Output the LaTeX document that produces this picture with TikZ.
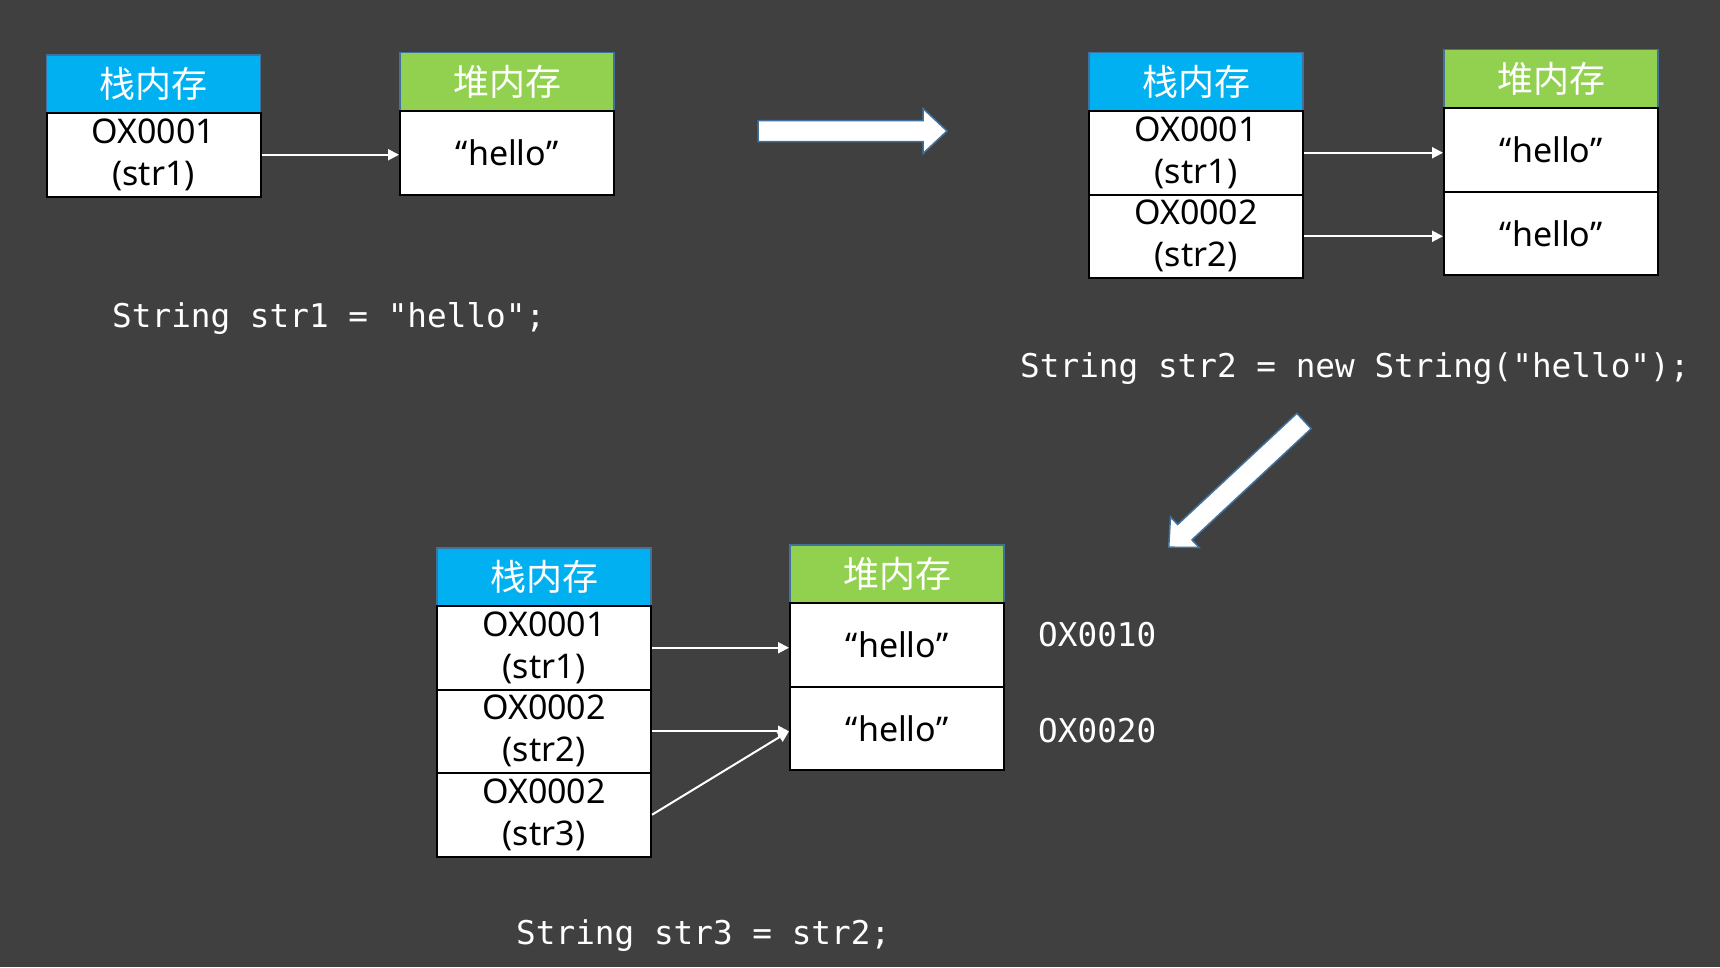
\documentclass[tikz,border=0pt]{standalone}
\usepackage{fontspec}
\setmainfont{Noto Sans}
\setmonofont{DejaVu Sans Mono}
\newfontfamily\cjk{Noto Sans CJK SC}
\usepackage{tikz}
\usetikzlibrary{arrows.meta}
\definecolor{slidebg}{HTML}{404040}
\definecolor{stackblue}{HTML}{00B0F0}
\definecolor{heapgreen}{HTML}{92D050}
\definecolor{outlineblue}{HTML}{41719C}

\begin{document}
\begin{tikzpicture}[x=1pt,y=-1pt,
  memhead/.style={draw=outlineblue,line width=1.5pt,minimum width=214pt,minimum height=58pt,
                  inner sep=0pt,text=white,font=\cjk\fontsize{36}{40}\selectfont},
  stackhead/.style={memhead,fill=stackblue},
  heaphead/.style={memhead,fill=heapgreen},
  cell/.style={draw=black,line width=2pt,fill=white,minimum width=214pt,minimum height=83.5pt,
               inner sep=0pt,align=center,font=\fontsize{34}{42}\selectfont},
  link/.style={white,line width=2pt,-{Triangle[length=11pt,width=11pt]}},
  codeline/.style={text=white,anchor=west,inner sep=0pt,font=\ttfamily\fontsize{32.7}{38}\selectfont},
  bigarrow/.style={draw=outlineblue,line width=1.5pt,fill=white,line join=miter}]
 \path[fill=slidebg,use as bounding box] (0,0) rectangle (1720,967);

 % str1
 \node[stackhead] (sh1) at (153.5,84) {栈内存};
 \node[cell] (s1a) at (153.5,154.75) {OX0001\\(str1)};
 \node[heaphead] (hh1) at (507,81.5) {堆内存};
 \node[cell] (h1a) at (507,152.75) {“hello”};
 \draw[link] (s1a.east) -- (s1a.east -| h1a.west);
 \node[codeline] (c1) at (112,318) {String str1 = "hello";};

 \draw[bigarrow] (758,120.5) -- (923,120.5) -- (923,108.5) -- (947,131) -- (923,153.5)
   -- (923,141.5) -- (758,141.5) -- cycle;

 % str2
 \node[stackhead] (sh2) at (1196,81.5) {栈内存};
 \node[cell] (s2a) at (1196,152.75) {OX0001\\(str1)};
 \node[cell] (s2b) at (1196,236.25) {OX0002\\(str2)};
 \node[heaphead] (hh2) at (1551,78.5) {堆内存};
 \node[cell] (h2a) at (1551,149.75) {“hello”};
 \node[cell] (h2b) at (1551,233.25) {“hello”};
 \draw[link] (s2a.east) -- (s2a.east -| h2a.west);
 \draw[link] (s2b.east) -- (s2b.east -| h2b.west);
 \node[codeline] (c2) at (1020,368) {String str2 = new String("hello");};

 \begin{scope}[shift={(1304,421)},rotate=223]
  \draw[bigarrow] (0,-10.5) -- (163,-10.5) -- (163,-21) -- (185,0) -- (163,21)
    -- (163,10.5) -- (0,10.5) -- cycle;
 \end{scope}

 % str3
 \node[stackhead] (sh3) at (544,577) {栈内存};
 \node[cell] (s3a) at (544,647.75) {OX0001\\(str1)};
 \node[cell] (s3b) at (544,731.25) {OX0002\\(str2)};
 \node[cell] (s3c) at (544,814.75) {OX0002\\(str3)};
 \node[heaphead] (hh3) at (897,574) {堆内存};
 \node[cell] (h3a) at (897,644.75) {“hello”};
 \node[cell] (h3b) at (897,728.25) {“hello”};
 \coordinate (hit) at (s3b.east -| h3b.west);
 \draw[link] (s3a.east) -- (s3a.east -| h3a.west);
 \draw[link] (s3b.east) -- (hit);
 \draw[link] (s3c.east) -- (hit);
 \node[codeline] (ad1) at (1038,635) {OX0010};
 \node[codeline] (ad2) at (1038,731) {OX0020};
 \node[codeline] (c3) at (516,936) {String str3 = str2;};
\end{tikzpicture}
\end{document}
